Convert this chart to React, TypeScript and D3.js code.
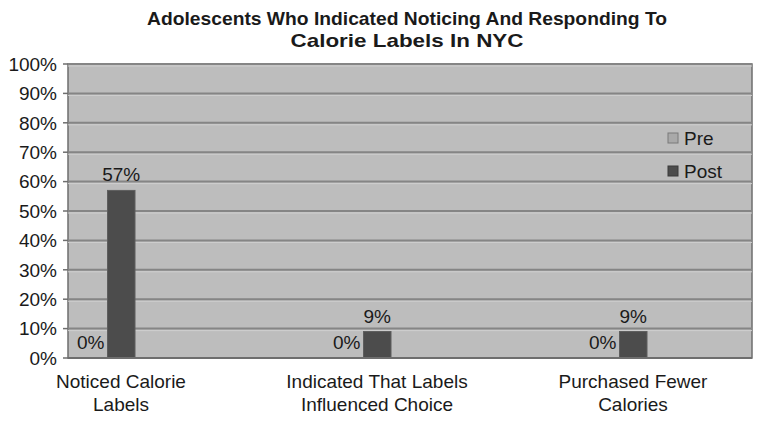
import React, { useEffect, useRef } from 'react';
import * as d3 from 'd3';

const categories = [
  ['Noticed Calorie', 'Labels'],
  ['Indicated That Labels', 'Influenced Choice'],
  ['Purchased Fewer', 'Calories'],
];
const series = ['Pre', 'Post'];
const preValues = [0, 0, 0];
const postValues = [57, 9, 9];
const yTicks = [0, 10, 20, 30, 40, 50, 60, 70, 80, 90, 100];
const titleLines = ['Adolescents Who Indicated Noticing And Responding To', 'Calorie Labels In NYC'];

const colors: Record<string, string> = { Pre: '#a9a9a9', Post: '#4c4c4c' };

const App: React.FC = () => {
  const svgRef = useRef<SVGSVGElement | null>(null);

  useEffect(() => {
    if (!svgRef.current) return;
    const width = 762;
    const height = 421;
    const plot = { left: 68, right: 752, top: 64, bottom: 358 };
    const font = 'Liberation Sans, Arial, Helvetica, sans-serif';
    const fs = 19;

    const svg = d3.select(svgRef.current);
    svg.selectAll('*').remove();
    svg.attr('width', width).attr('height', height).attr('viewBox', `0 0 ${width} ${height}`);

    svg.append('rect').attr('width', width).attr('height', height).attr('fill', '#ffffff');

    const y = d3.scaleLinear().domain([0, 100]).range([plot.bottom, plot.top]);
    const x = d3.scaleBand<number>()
      .domain(d3.range(categories.length))
      .range([-7, 761]);
    const inner = d3.scaleBand<string>().domain(series).range([-41, 14]);

    // plot area
    svg.append('rect')
      .attr('x', plot.left).attr('y', plot.top)
      .attr('width', plot.right - plot.left).attr('height', plot.bottom - plot.top)
      .attr('fill', '#bdbdbd')
      .attr('stroke', '#6e6e6e')
      .attr('stroke-width', 1.5);

    // gridlines
    const grid = svg.append('g');
    yTicks.filter(t => t > 0).forEach(t => {
      grid.append('line')
        .attr('x1', plot.left).attr('x2', plot.right)
        .attr('y1', y(t) + 2).attr('y2', y(t) + 2)
        .attr('stroke', '#cfcfcf').attr('stroke-width', 1);
      grid.append('line')
        .attr('x1', plot.left).attr('x2', plot.right)
        .attr('y1', y(t)).attr('y2', y(t))
        .attr('stroke', '#858585').attr('stroke-width', 2);
    });

    // y axis
    const yAxis = svg.append('g');
    yTicks.forEach(t => {
      yAxis.append('line')
        .attr('x1', plot.left - 5).attr('x2', plot.left)
        .attr('y1', y(t)).attr('y2', y(t))
        .attr('stroke', '#6e6e6e').attr('stroke-width', 1.5);
      yAxis.append('text')
        .attr('x', 57).attr('y', y(t))
        .attr('dy', '0.36em')
        .attr('text-anchor', 'end')
        .attr('font-family', font)
        .attr('font-size', fs)
        .attr('fill', '#1a1a1a')
        .text(`${t}%`);
    });

    // bars
    const data = categories.map((_, i) => ({ i, Pre: preValues[i], Post: postValues[i] }));
    const groups = svg.append('g')
      .selectAll('g')
      .data(data)
      .join('g')
      .attr('transform', d => `translate(${x(d.i)! + x.bandwidth() / 2},0)`);

    series.forEach(s => {
      groups.append('rect')
        .attr('x', inner(s)!)
        .attr('width', inner.bandwidth())
        .attr('y', d => y((d as any)[s]))
        .attr('height', d => plot.bottom - y((d as any)[s]))
        .attr('fill', colors[s])
        .attr('stroke', (d: any) => (d[s] > 0 ? '#5e5e5e' : 'none'))
        .attr('stroke-width', 1);

      groups.append('text')
        .attr('x', inner(s)! + inner.bandwidth() / 2 - (s === 'Pre' ? 3 : 0))
        .attr('y', d => y((d as any)[s]) - 9)
        .attr('text-anchor', 'middle')
        .attr('font-family', font)
        .attr('font-size', fs)
        .attr('fill', '#1a1a1a')
        .text(d => `${(d as any)[s]}%`);
    });

    // baseline
    svg.append('line')
      .attr('x1', plot.left).attr('x2', plot.right)
      .attr('y1', plot.bottom).attr('y2', plot.bottom)
      .attr('stroke', '#6e6e6e').attr('stroke-width', 2);

    // category labels
    categories.forEach((lines, i) => {
      const t = svg.append('text')
        .attr('x', x(i)! + x.bandwidth() / 2)
        .attr('y', 388)
        .attr('text-anchor', 'middle')
        .attr('font-family', font)
        .attr('font-size', fs)
        .attr('fill', '#1a1a1a');
      lines.forEach((ln, j) => {
        t.append('tspan')
          .attr('x', x(i)! + x.bandwidth() / 2)
          .attr('dy', j === 0 ? 0 : 23)
          .text(ln);
      });
    });

    // legend
    const legend = svg.append('g').attr('transform', 'translate(668,133)');
    series.forEach((s, i) => {
      const g = legend.append('g').attr('transform', `translate(0,${i * 33})`);
      g.append('rect')
        .attr('width', 10).attr('height', 10)
        .attr('fill', colors[s])
        .attr('stroke', s === 'Pre' ? '#7a7a7a' : '#3a3a3a')
        .attr('stroke-width', 1);
      g.append('text')
        .attr('x', 16).attr('y', 5)
        .attr('dy', '0.36em')
        .attr('font-family', font)
        .attr('font-size', fs)
        .attr('fill', '#1a1a1a')
        .text(s);
    });

    // title
    const title = svg.append('text')
      .attr('x', 407)
      .attr('y', 25)
      .attr('text-anchor', 'middle')
      .attr('font-family', font)
      .attr('font-weight', 'bold')
      .attr('font-size', 19)
      .attr('fill', '#1a1a1a');
    titleLines.forEach((ln, j) => {
      title.append('tspan')
        .attr('x', 407)
        .attr('dy', j === 0 ? 0 : 22)
        .attr('textLength', j === 0 ? 520 : 233)
        .attr('lengthAdjust', 'spacingAndGlyphs')
        .text(ln);
    });
  }, []);

  return (
    <div style={{ position: 'absolute', left: 0, top: 0 }}>
      <svg ref={svgRef} style={{ display: 'block' }} />
    </div>
  );
};

export default App;
